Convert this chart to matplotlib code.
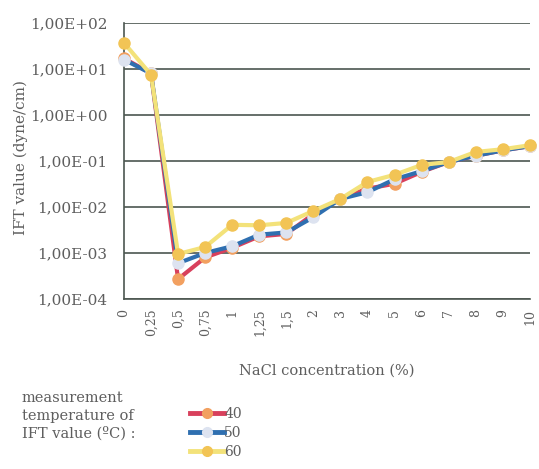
import matplotlib.pyplot as plt
from matplotlib.lines import Line2D
import numpy as np

plt.rcParams['font.family'] = ['DejaVu Serif']

# NaCl concentration categories (%)
conc_labels = ['0', '0,25', '0,5', '0,75', '1', '1,25', '1,5', '2', '3', '4',
               '5', '6', '7', '8', '9', '10']

# IFT values (dyne/cm) at each measurement temperature
ift_40 = [17, 8.0, 2.7e-4, 8.0e-4, 1.3e-3, 2.3e-3, 2.6e-3, 7.0e-3, 1.5e-2,
          2.5e-2, 3.2e-2, 5.8e-2, 9.5e-2, 1.3e-1, 1.7e-1, 2.1e-1]
ift_50 = [16, 8.0, 6.0e-4, 1.0e-3, 1.4e-3, 2.5e-3, 2.8e-3, 6.0e-3, 1.5e-2,
          2.1e-2, 4.0e-2, 6.0e-2, 9.5e-2, 1.3e-1, 1.7e-1, 2.1e-1]
ift_60 = [37, 7.5, 9.5e-4, 1.35e-3, 4.1e-3, 4.0e-3, 4.5e-3, 8.2e-3, 1.5e-2,
          3.5e-2, 5.0e-2, 8.2e-2, 9.5e-2, 1.57e-1, 1.8e-1, 2.2e-1]

series = [
    ('40', ift_40, '#d8405c', '#f2a060'),
    ('50', ift_50, '#2f6fb0', '#dde3f0'),
    ('60', ift_60, '#f3e27a', '#f2c455'),
]

text_col = '#5e5e5e'
grid_col = '#4c5650'

fig = plt.figure(figsize=(5.39, 4.69), dpi=100)
ax = fig.add_axes([0.230, 0.3625, 0.753, 0.5885])

x = np.arange(len(conc_labels))
for name, vals, lc, mc in series:
    ax.plot(x, vals, '-o', color=lc, lw=3, ms=8, mfc=mc, mec=mc, label=name,
            clip_on=False, zorder=3)

ax.set_yscale('log')
ax.set_ylim(1e-4, 1e2)
ax.set_xlim(0, len(conc_labels) - 1)
ax.set_yticks([1e-4, 1e-3, 1e-2, 1e-1, 1e0, 1e1, 1e2])
ax.set_yticklabels(['1,00E-04', '1,00E-03', '1,00E-02', '1,00E-01',
                    '1,00E+00', '1,00E+01', '1,00E+02'])
ax.minorticks_off()
ax.set_xticks(x)
ax.set_xticklabels(conc_labels, rotation=90)
ax.tick_params(axis='y', length=0, labelsize=11, colors=text_col, pad=12)
ax.tick_params(axis='x', length=0, labelsize=9, colors=text_col, pad=7)
ax.grid(axis='y', color=grid_col, lw=1.2, zorder=1)

for s in ['top', 'right']:
    ax.spines[s].set_visible(False)
for s in ['left', 'bottom']:
    ax.spines[s].set_color(grid_col)
    ax.spines[s].set_linewidth(1.2)

ax.set_xlabel('NaCl concentration (%)', fontsize=10.5, color=text_col,
              labelpad=20)
fig.text(0.038, 0.665, 'IFT value (dyne/cm)', rotation=90, fontsize=11,
         color=text_col, ha='center', va='center')

# legend block below the chart
fig.text(0.04, 0.166, 'measurement\ntemperature of\nIFT value (ºC) :',
         fontsize=10.5, color=text_col, va='top', linespacing=1.33)
handles = [Line2D([], [], color=lc, lw=3.5, marker='o', ms=7, mfc=mc, mec=mc)
           for _, _, lc, mc in series]
fig.legend(handles, [s[0] for s in series], loc='upper left',
           bbox_to_anchor=(0.34, 0.147), frameon=False, fontsize=10,
           handlelength=2.4, handletextpad=0.05, labelspacing=0.37,
           labelcolor=text_col, borderpad=0)

fig.savefig('out.png', dpi=100)
